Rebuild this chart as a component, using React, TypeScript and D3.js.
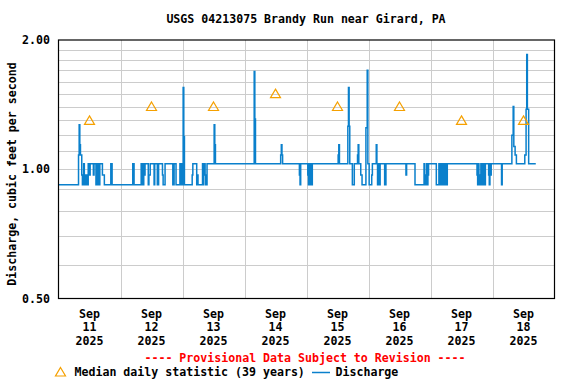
import React, { useEffect, useRef } from 'react';
import * as d3 from 'd3';

// hours after Sep 11 2025 00:00 -> discharge (ft3/s), step changes only
const dischargeSteps: [number, number][] = [
  [0, 0.92], [7.75, 1.08], [8.0, 1.27], [8.25, 1.14], [8.5, 1.08], [9.0, 0.97], [9.25, 0.92],
  [9.75, 1.03], [10.0, 0.97], [10.25, 0.92], [10.75, 0.97], [11.0, 0.92], [11.5, 1.03],
  [12.0, 0.97], [12.25, 1.03], [13.5, 0.97], [13.75, 1.03], [14.5, 0.92], [14.75, 1.03],
  [15.0, 0.92], [15.25, 1.03], [15.5, 0.97], [15.75, 0.92], [16.0, 1.03], [17.0, 0.97],
  [17.75, 0.92], [20.25, 1.03], [20.75, 0.92],
  [28.75, 1.03], [29.25, 0.92], [32.0, 1.03], [32.5, 0.92], [33.0, 1.03], [33.25, 0.97],
  [33.5, 1.03], [34.75, 0.92], [35.0, 0.97], [35.5, 1.03], [37.0, 0.92], [37.25, 1.03],
  [38.25, 0.92], [38.75, 1.03], [40.25, 0.97], [40.5, 0.92], [41.25, 1.03], [44.25, 0.92],
  [44.75, 1.03], [45.5, 0.92], [47.0, 1.03], [47.25, 0.92], [47.5, 1.03], [47.75, 0.92],
  [48.25, 1.55], [48.5, 1.19], [48.75, 0.92], [51.75, 0.97], [52.0, 1.03], [53.5, 0.92],
  [53.75, 0.97], [54.0, 0.92], [55.75, 1.03], [56.0, 0.92], [56.25, 1.03], [56.75, 0.97],
  [57.0, 0.92], [57.5, 1.03], [60.25, 1.27], [60.5, 1.14], [60.75, 1.03],
  [75.75, 1.69], [76.0, 1.31], [76.25, 1.03], [86.0, 1.08], [86.25, 1.14], [86.5, 1.08],
  [86.75, 1.03], [93.25, 0.97], [93.5, 0.92], [93.75, 1.03],
  [96.5, 0.97], [96.75, 0.92], [97.0, 1.03], [97.5, 0.92], [97.75, 1.03], [98.0, 0.92],
  [98.25, 1.03], [108.25, 1.08], [108.5, 1.14], [108.75, 1.03], [112.0, 1.26], [112.25, 1.55],
  [112.5, 1.26], [112.75, 1.03], [113.75, 0.92], [114.5, 1.03], [115.75, 1.08], [116.0, 1.14],
  [116.25, 1.03], [117.0, 0.97], [117.5, 0.92], [119.0, 1.25], [119.5, 1.7], [119.75, 1.03],
  [120.25, 0.92], [121.25, 0.97], [121.5, 1.03], [123.0, 1.14], [123.25, 1.03], [123.5, 0.92],
  [123.75, 1.03], [124.0, 0.97], [124.25, 0.92], [124.5, 1.03], [126.25, 0.92], [126.75, 1.03],
  [134.5, 0.97], [134.75, 1.03], [138.0, 0.92], [141.5, 1.03], [141.75, 0.92], [142.0, 0.97],
  [142.25, 0.92], [142.5, 1.03], [142.75, 0.92], [143.0, 0.97], [143.25, 1.03],
  [146.25, 0.92], [147.25, 1.03], [147.75, 0.92], [148.0, 1.03], [148.25, 0.92], [148.5, 1.03],
  [148.75, 0.97], [149.0, 0.92], [149.25, 1.03], [149.5, 0.92], [149.75, 1.03], [150.0, 0.97],
  [150.25, 0.92], [150.5, 1.03], [162.0, 0.97], [162.25, 0.92], [162.5, 1.03], [162.75, 0.92],
  [163.0, 0.97], [163.25, 0.92], [163.5, 1.03], [163.75, 0.92], [164.0, 1.03], [164.25, 0.97],
  [164.5, 0.92], [164.75, 1.03], [165.0, 0.92], [165.25, 1.03], [166.5, 0.97], [166.75, 0.92],
  [167.0, 1.03], [167.25, 0.97], [167.5, 1.03], [171.5, 0.92], [171.75, 1.03],
  [175.5, 1.2], [176.0, 1.4], [176.25, 1.13], [176.75, 1.08], [177.25, 1.03], [180.5, 1.08],
  [181.0, 1.38], [181.25, 1.85], [181.5, 1.38], [182.0, 1.03], [184.75, 1.03],
];

const days = [11, 12, 13, 14, 15, 16, 17, 18];
const medians = [1.3, 1.4, 1.4, 1.5, 1.4, 1.4, 1.3, 1.3];
const yTicks = [0.5, 1.0, 2.0];
const yGrid = [0.6, 0.7, 0.8, 0.9, 1.0, 1.1, 1.2, 1.3, 1.4, 1.5, 1.6, 1.7, 1.8, 1.9];

const W = 576;
const H = 384;
const FONT = '"DejaVu Sans Mono", monospace';

export default function App() {
  const svgRef = useRef<SVGSVGElement>(null);

  useEffect(() => {
    const svg = d3.select(svgRef.current);
    svg.selectAll('*').remove();

    const t0 = new Date(2025, 8, 11).getTime();
    const toDate = (h: number) => new Date(t0 + h * 3600e3);

    const x = d3.scaleTime()
      .domain([new Date(2025, 8, 11), new Date(2025, 8, 19)])
      .range([58.5, 554.5]);
    const y = d3.scaleLog().domain([0.5, 2]).range([298.5, 40]);

    svg.append('rect').attr('width', W).attr('height', H).attr('fill', '#fff');

    // grid
    svg.append('g').selectAll('line').data(yGrid).enter().append('line')
      .attr('x1', 58.5).attr('x2', 554.5)
      .attr('y1', d => Math.round(y(d)) + 0.5).attr('y2', d => Math.round(y(d)) + 0.5)
      .attr('stroke', '#cccccc');
    svg.append('g').selectAll('line').data(days.slice(1)).enter().append('line')
      .attr('x1', d => Math.round(x(new Date(2025, 8, d))) + 0.5)
      .attr('x2', d => Math.round(x(new Date(2025, 8, d))) + 0.5)
      .attr('y1', 40).attr('y2', 298.5)
      .attr('stroke', '#cccccc');

    // discharge
    const line = d3.line<[number, number]>()
      .x(d => x(toDate(d[0])))
      .y(d => y(d[1]))
      .curve(d3.curveStepAfter);
    svg.append('path').datum(dischargeSteps)
      .attr('d', line)
      .attr('fill', 'none')
      .attr('stroke', '#0a80cc')
      .attr('stroke-width', 1.5);

    // medians
    const tri = 'M0,-4.5 L5,4 L-5,4 Z';
    svg.append('g').selectAll('path').data(medians).enter().append('path')
      .attr('d', tri)
      .attr('transform', (d, i) => `translate(${x(toDate(i * 24 + 12))},${y(d)})`)
      .attr('fill', 'none')
      .attr('stroke', '#f5a000')
      .attr('stroke-width', 1.2);

    // frame
    svg.append('rect')
      .attr('x', 58.5).attr('y', 40).attr('width', 496).attr('height', 258.5)
      .attr('fill', 'none').attr('stroke', '#000').attr('stroke-width', 1.2);

    const txt = (sel: any) => sel
      .attr('font-family', FONT).attr('font-weight', 'bold').attr('font-size', 11.6);

    // y labels
    svg.append('g').selectAll('text').data(yTicks).enter().append('text')
      .call(txt)
      .attr('x', 50).attr('y', d => y(d) + 4)
      .attr('text-anchor', 'end')
      .text(d => d.toFixed(2));

    // x labels
    const xl = svg.append('g').selectAll('g').data(days).enter().append('g')
      .attr('transform', d => `translate(${x(new Date(2025, 8, d, 12))},0)`);
    xl.append('text').call(txt).attr('y', 318).attr('text-anchor', 'middle').text('Sep');
    xl.append('text').call(txt).attr('y', 331).attr('text-anchor', 'middle').text(d => String(d));
    xl.append('text').call(txt).attr('y', 345).attr('text-anchor', 'middle').text('2025');

    svg.append('text').call(txt)
      .attr('x', 306).attr('y', 23).attr('text-anchor', 'middle')
      .text('USGS 04213075 Brandy Run near Girard, PA');

    svg.append('text').call(txt)
      .attr('transform', 'translate(16,174) rotate(-90)')
      .attr('text-anchor', 'middle')
      .text('Discharge, cubic feet per second');

    svg.append('text').call(txt)
      .attr('x', 305).attr('y', 362).attr('text-anchor', 'middle')
      .attr('fill', '#ff0000')
      .text('---- Provisional Data Subject to Revision ----');

    // legend
    svg.append('path').attr('d', tri)
      .attr('transform', 'translate(60.5,372)')
      .attr('fill', 'none').attr('stroke', '#f5a000').attr('stroke-width', 1.2);
    svg.append('text').call(txt).attr('x', 74.5).attr('y', 376)
      .text('Median daily statistic (39 years)');
    svg.append('line').attr('x1', 312).attr('x2', 330).attr('y1', 372.5).attr('y2', 372.5)
      .attr('stroke', '#0a80cc').attr('stroke-width', 1.5);
    svg.append('text').call(txt).attr('x', 335.5).attr('y', 376).text('Discharge');
  }, []);

  return <svg ref={svgRef} width={W} height={H} style={{ display: 'block', position: 'absolute', left: 0, top: 0 }} />;
}
